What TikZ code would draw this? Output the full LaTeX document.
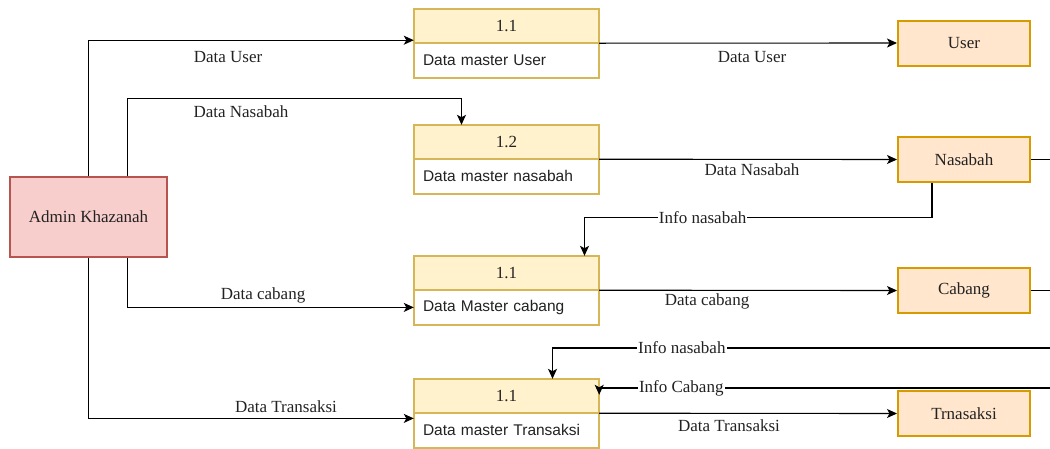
\documentclass[tikz,border=0pt]{standalone}
\usepackage{fontspec}
\setmainfont{Liberation Serif}
\setsansfont{Liberation Sans}
\usetikzlibrary{arrows.meta}
\definecolor{adminfill}{HTML}{F8CECC}
\definecolor{admindraw}{HTML}{B85450}
\definecolor{prochead}{HTML}{FFF2CC}
\definecolor{procdraw}{HTML}{D6B656}
\definecolor{entfill}{HTML}{FFE6CC}
\definecolor{entdraw}{HTML}{D79B00}
\definecolor{txt}{HTML}{222222}
\tikzset{
  lbl/.style={font=\fontsize{17}{20}\selectfont, text=txt, inner sep=1pt},
  inlbl/.style={lbl, fill=white},
  adminbox/.style={draw=admindraw, fill=adminfill, line width=2pt, minimum width=157pt, minimum height=80pt, font=\fontsize{17}{20}\selectfont, text=txt},
  headbox/.style={fill=prochead, minimum width=185pt, minimum height=34pt, font=\fontsize{17}{20}\selectfont, text=txt},
  bodybox/.style={fill=white, minimum width=185pt, minimum height=34pt, font=\sffamily\fontsize{15.5}{18}\selectfont, text=txt, text width=167pt, align=left},
  procline/.style={draw=procdraw, line width=2pt},
  entbox/.style={draw=entdraw, fill=entfill, line width=2pt, minimum width=132pt, minimum height=45pt, font=\fontsize{17}{20}\selectfont, text=txt},
  conn/.style={line width=1.1pt, draw=black},
  arr/.style={conn, -{Stealth[length=10pt,width=9pt,inset=2.5pt]}},
}
\begin{document}
\begin{tikzpicture}[x=1pt,y=-1pt]
\useasboundingbox (0,0) rectangle (1050,448);

% entities
\node[adminbox] (admin) at (88.5,217) {Admin Khazanah};
\node[entbox] (user) at (964,43) {User};
\node[entbox] (nasabah) at (964,159.5) {Nasabah};
\node[entbox] (cabang) at (964,290.5) {Cabang};
\node[entbox] (trn) at (964,413.5) {Trnasaksi};

% processes
\node[headbox] (p1h) at (506.5,26) {1.1};
\node[bodybox, anchor=north] (p1b) at (p1h.south) {Data master User};
\node[headbox] (p2h) at (506.5,142) {1.2};
\node[bodybox, anchor=north] (p2b) at (p2h.south) {Data master nasabah};
\node[headbox] (p3h) at (506.5,273) {1.1};
\node[bodybox, anchor=north] (p3b) at (p3h.south) {Data Master cabang};
\node[headbox] (p4h) at (506.5,396) {1.1};
\node[bodybox, anchor=north] (p4b) at (p4h.south) {Data master Transaksi};
\foreach \p in {p1,p2,p3,p4}{
  \draw[procline] (\p h.north west) rectangle (\p b.south east);
  \draw[procline] (\p h.south west) -- (\p h.south east);
}

% free ends at the right edge
\coordinate (nasE) at (1050,159.5);
\coordinate (cabE) at (1050,290.5);
\coordinate (inE) at (1050,348);
\coordinate (icE) at (1050,388);

% admin -> processes
\draw[arr] (admin.north) |- ([yshift=3pt]p1h.south west);
\draw[arr] ([xshift=39pt]admin.north) |- ([xshift=-45pt,yshift=26pt]p2h.north) -- ([xshift=-45pt]p2h.north);
\draw[arr] ([xshift=39pt]admin.south) |- (p3b.west);
\draw[arr] (admin.south) |- ([yshift=12pt]p4b.west);

% processes -> entities
\draw[arr] (p1h.south east) -- (user.west);
\draw[arr] (p2h.south east) -- (nasabah.west);
\draw[arr] (p3h.south east) -- (cabang.west);
\draw[arr] (p4h.south east) -- (trn.west);

% entities -> right edge
\draw[conn] (nasabah.east) -- (nasE);
\draw[conn] (cabang.east) -- (cabE);

% info flows
\draw[arr] ([xshift=-32pt]nasabah.south) |- node[inlbl, pos=0.83] (linfo1) {Info nasabah} ([xshift=78pt,yshift=38pt]p3h.north) -- ([xshift=78pt]p3h.north);
\draw[arr] (inE) -| node[inlbl, pos=0.37] (linfo2) {Info nasabah} ([xshift=46pt]p4h.north);
\draw[arr] (icE) -- node[inlbl, pos=0.818] (linfo3) {Info Cabang} (p4h.north east |- icE) -- ([yshift=-16pt]p4h.north east);

% labels
\node[lbl] (l1) at (228,57) {Data User};
\node[lbl] (l2) at (241,112) {Data Nasabah};
\node[lbl] (l3) at (263,295) {Data cabang};
\node[lbl] (l4) at (286,407) {Data Transaksi};
\node[lbl] (l5) at (752,57) {Data User};
\node[lbl] (l6) at (752,170) {Data Nasabah};
\node[lbl] (l7) at (707,301) {Data cabang};
\node[lbl] (l8) at (729,426) {Data Transaksi};
\end{tikzpicture}
\end{document}
